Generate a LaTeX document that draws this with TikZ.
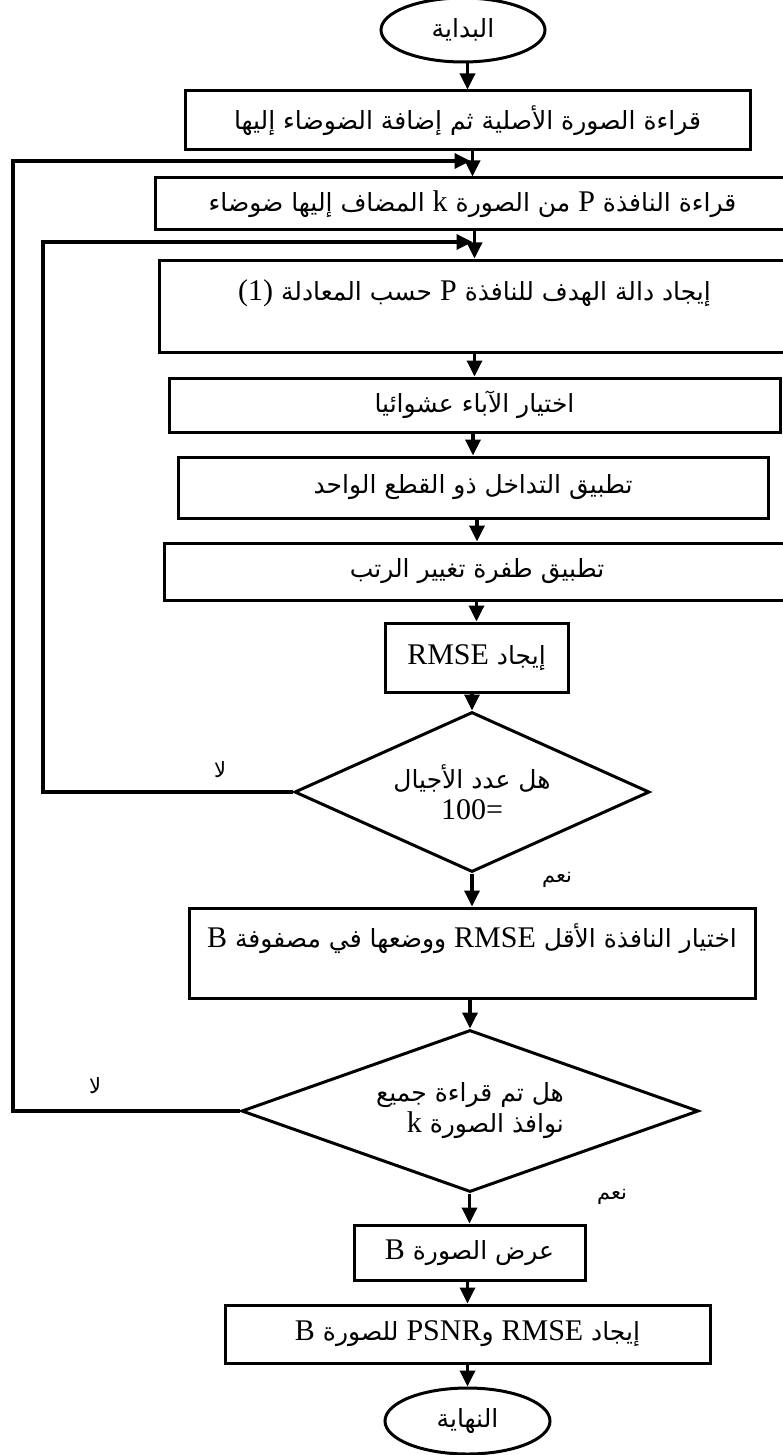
\documentclass[tikz,border=0pt]{standalone}
\usepackage{fontspec}
\setmainfont{Liberation Serif}
\newfontfamily\arabicfont[Script=Arabic]{DejaVu Sans}
\TeXXeTstate=1
\usetikzlibrary{shapes.geometric,arrows.meta}
\newcommand{\artxt}[1]{\beginR #1\endR}
\newcommand{\lat}[1]{\beginL{\rmfamily\fontsize{15}{16}\selectfont #1}\endL}
\tikzset{
    box/.style={draw=black, rectangle, line width=1.5pt, inner sep=2pt, font=\arabicfont\fontsize{12.5}{15.5}\selectfont},
    topbox/.style={box, text height=10pt, text depth=16pt},
    term/.style={draw=black, ellipse, line width=1.5pt, inner sep=0pt, font=\arabicfont\fontsize{12.5}{15.5}\selectfont},
    dec/.style={draw=black, diamond, aspect=2.2, line width=1.5pt, inner sep=0pt, align=center, font=\arabicfont\fontsize{12.5}{15.5}\selectfont},
    lbl/.style={font=\arabicfont\fontsize{10.5}{12}\selectfont},
    e1/.style={draw=black, ->, >={Triangle[length=8pt, width=7.5pt]}, line width=1.7pt}
}

\begin{document}
\begin{tikzpicture}[x=0.5pt, y=-0.5pt]
\useasboundingbox (0,0) rectangle (782,1455);

% Start
\node[term, minimum width=82pt, minimum height=32pt] (S) at (463, 30) {\artxt{البداية}};

% Reading
\node[box, minimum width=282.5pt, minimum height=29.5pt] (B1) at (467.5, 120.5) {\artxt{قراءة الصورة الأصلية ثم إضافة الضوضاء إليها}};
\node[box, minimum width=317.5pt, minimum height=26pt] (B2) at (472.5, 204) {\artxt{قراءة النافذة \lat{P} من الصورة \lat{k} المضاف إليها ضوضاء}};

% Genetic steps
\node[topbox, minimum width=315.5pt, minimum height=46pt] (B3) at (474.5, 306) {\artxt{إيجاد دالة الهدف للنافذة \lat{P} حسب المعادلة \lat{(1)}}};
\node[box, minimum width=305.5pt, minimum height=27pt] (B4) at (474.5, 405) {\artxt{اختيار الآباء عشوائيا}};
\node[box, minimum width=295pt, minimum height=30.5pt] (B5) at (473, 487.5) {\artxt{تطبيق التداخل ذو القطع الواحد}};
\node[box, minimum width=313pt, minimum height=28.5pt] (B6) at (477, 571.5) {\artxt{تطبيق طفرة تغيير الرتب}};
\node[box, minimum width=91.5pt, minimum height=34.5pt] (B7) at (476.5, 657.5) {\artxt{إيجاد \lat{RMSE}}};

% Generations test
\node[dec, minimum width=177.5pt, minimum height=80pt] (D1) at (472, 792) {\artxt{هل عدد الأجيال}\\ \lat{100=}};

\node[topbox, minimum width=283pt, minimum height=45pt] (B8) at (472, 953) {\artxt{اختيار النافذة الأقل \lat{RMSE} ووضعها في مصفوفة \lat{B}}};

% Windows test
\node[dec, align=right, minimum width=228.5pt, minimum height=81pt] (D2) at (470, 1111) {\artxt{هل تم قراءة جميع}\\ \artxt{نوافذ الصورة \lat{k}}};

% Output
\node[box, minimum width=115.5pt, minimum height=27.5pt] (B9) at (469.5, 1252.5) {\artxt{عرض الصورة \lat{B}}};
\node[box, minimum width=242.5pt, minimum height=29pt] (B10) at (467.5, 1334) {\artxt{إيجاد \lat{RMSE} و\lat{PSNR} للصورة \lat{B}}};
\node[term, minimum width=82.5pt, minimum height=33pt] (E) at (467.5, 1421) {\artxt{النهاية}};

% Labels
\node[lbl] (no1) at (220, 770) {\artxt{لا}};
\node[lbl] (yes1) at (557, 880) {\artxt{نعم}};
\node[lbl] (no2) at (95, 1086) {\artxt{لا}};
\node[lbl] (yes2) at (612, 1197) {\artxt{نعم}};

% Loop corners
\coordinate (L1) at (13, 161);
\coordinate (L2) at (43, 242);

% Main flow
\draw[e1] (S.south -| B1) -- (B1.north);
\draw[e1] (B1.south -| B2) -- (B2.north);
\draw[e1] (B2.south -| B3) -- (B3.north);
\draw[e1] (B3.south -| B4) -- (B4.north);
\draw[e1] (B4.south -| B5) -- (B5.north);
\draw[e1] (B5.south -| B6) -- (B6.north);
\draw[e1] (B6.south -| B7) -- (B7.north);
\draw[e1] (B7.south -| D1) -- (D1.north);
\draw[e1] (D1.south -| B8) -- (B8.north);
\draw[e1] (B8.south -| D2) -- (D2.north);
\draw[e1] (D2.south -| B9) -- (B9.north);
\draw[e1] (B9.south -| B10) -- (B10.north);
\draw[e1] (B10.south -| E) -- (E.north);

% Loops back
\draw[e1] (D1.west) -| (L2) -- ([xshift=-1pt]L2 -| B3);
\draw[e1] (D2.west) -| (L1) -- ([xshift=-1pt]L1 -| B2);

\end{tikzpicture}
\end{document}
